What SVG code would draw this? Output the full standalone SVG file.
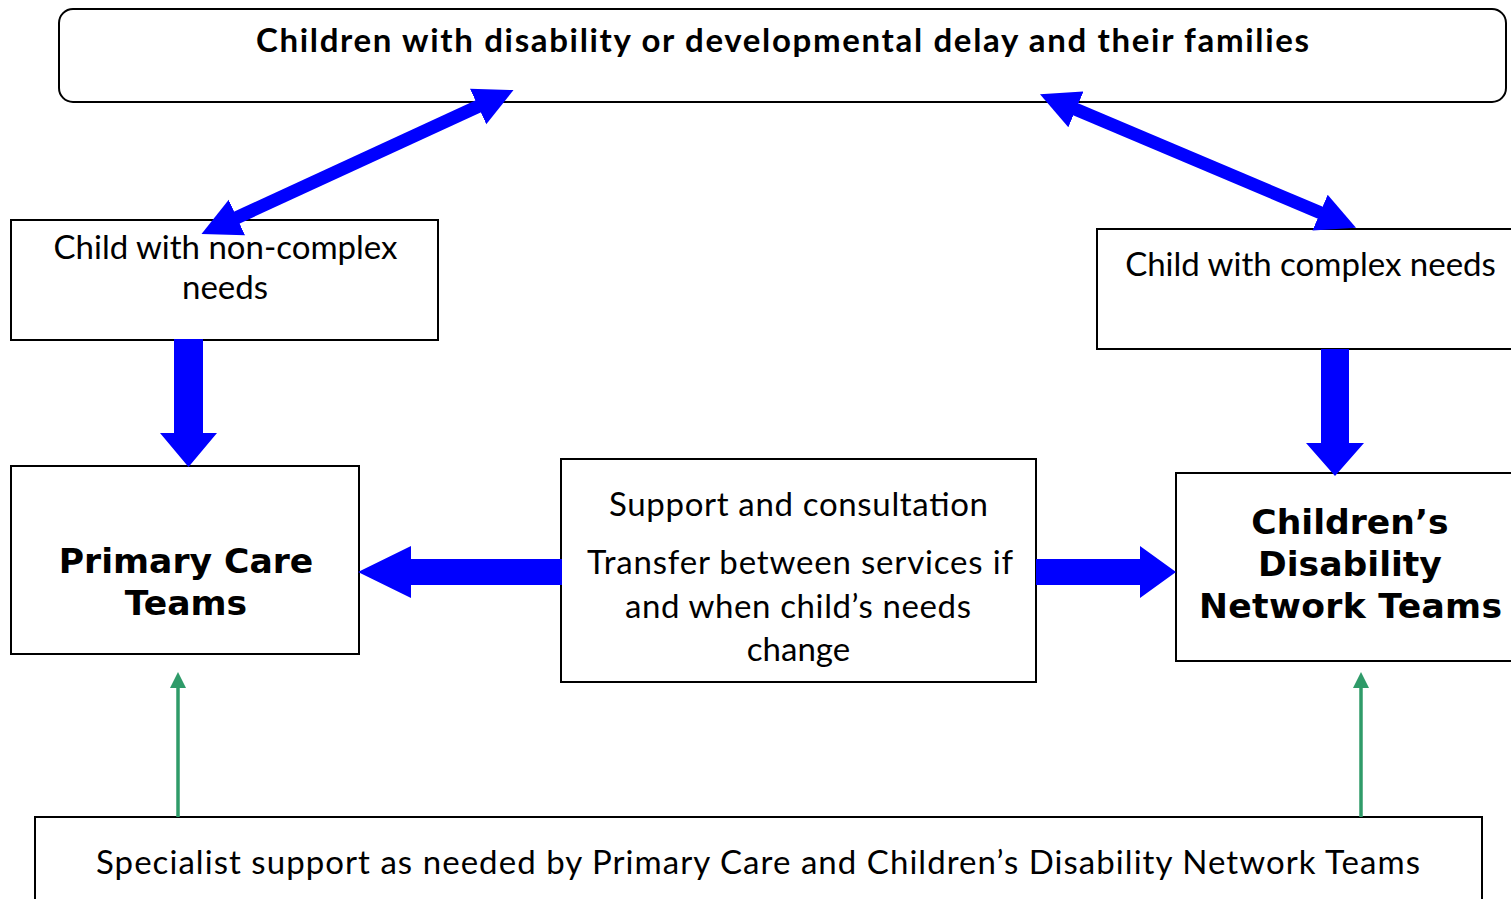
<svg xmlns="http://www.w3.org/2000/svg" width="1511" height="899" viewBox="0 0 1511 899">
<style>
.box{fill:#fff;stroke:#000;stroke-width:2}
.t{font-family:Lato,"Open Sans","Liberation Sans",sans-serif;font-size:33px;fill:#000;text-anchor:middle}
.tb{font-family:Lato,"Open Sans","Liberation Sans",sans-serif;font-weight:bold;font-size:33px;fill:#000;text-anchor:middle}
.v{font-family:"DejaVu Sans",Verdana,sans-serif;font-weight:bold;font-size:34.6px;fill:#000;text-anchor:middle}
.blue{fill:#0000ff}
.dline{stroke:#0000ff;stroke-width:13;fill:none}
.green{stroke:#2f9b69;stroke-width:3.5;fill:none}
</style>
<defs>
<marker id="bh" markerUnits="userSpaceOnUse" markerWidth="40" markerHeight="40" viewBox="0 -20 40 40" refX="1" refY="0" orient="auto-start-reverse">
<path d="M0,-19.5 L39,0 L0,19.5 Z" fill="#0000ff"/>
</marker>
<marker id="gh" markerUnits="userSpaceOnUse" markerWidth="18" markerHeight="18" viewBox="0 -9 18 18" refX="1" refY="0" orient="auto">
<path d="M0,-8 L16,0 L0,8 Z" fill="#2f9b69"/>
</marker>
</defs>

<g id="families">
<rect class="box" x="59" y="9" width="1447" height="93" rx="14"/>
<text class="tb" x="782.5" y="52" textLength="1053">Children with disability or developmental delay and their families</text>
</g>
<g id="noncomplex">
<rect class="box" x="11" y="220" width="427" height="120"/>
<text class="t" x="225.5" y="259">Child with non-complex</text>
<text class="t" x="225" y="299">needs</text>
</g>
<g id="complex">
<rect class="box" x="1097" y="229" width="420" height="120"/>
<text class="t" x="1310.5" y="276">Child with complex needs</text>
</g>
<g id="primary">
<rect class="box" x="11" y="466" width="348" height="188"/>
<text class="v" x="186" y="573">Primary Care</text>
<text class="v" x="186" y="615">Teams</text>
</g>
<g id="support">
<rect class="box" x="561" y="459" width="475" height="223"/>
<text class="t" x="798.5" y="516" textLength="379">Support and consultation</text>
<text class="t" x="800" y="574" textLength="426">Transfer between services if</text>
<text class="t" x="798" y="618" textLength="346">and when child’s needs</text>
<text class="t" x="798.5" y="661">change</text>
</g>
<g id="cdnt">
<rect class="box" x="1176" y="473" width="345" height="188"/>
<text class="v" x="1350" y="534">Children’s</text>
<text class="v" x="1350" y="576">Disability</text>
<text class="v" x="1350.5" y="618" textLength="303">Network Teams</text>
</g>
<g id="specialist">
<rect class="box" x="35" y="817" width="1447" height="100"/>
<text class="t" x="758" y="874" textLength="1324">Specialist support as needed by Primary Care and Children’s Disability Network Teams</text>
</g>

<g id="connectors">
<line class="dline" x1="236" y1="218" x2="479" y2="106" marker-start="url(#bh)" marker-end="url(#bh)"/>
<line class="dline" x1="1075" y1="109" x2="1321" y2="213" marker-start="url(#bh)" marker-end="url(#bh)"/>
<polygon class="blue" points="174,339 203,339 203,433 217,433 188.5,467 160,433 174,433"/>
<polygon class="blue" points="1321,349 1349,349 1349,443 1364,443 1335,476 1306,443 1321,443"/>
<polygon class="blue" points="562,559 411,559 411,546 358,572 411,598 411,585 562,585"/>
<polygon class="blue" points="1036,559 1140,559 1140,546 1176,572 1140,598 1140,585 1036,585"/>
<line class="green" x1="178" y1="817" x2="178" y2="687" marker-end="url(#gh)"/>
<line class="green" x1="1361" y1="817" x2="1361" y2="687" marker-end="url(#gh)"/>
</g>
</svg>
